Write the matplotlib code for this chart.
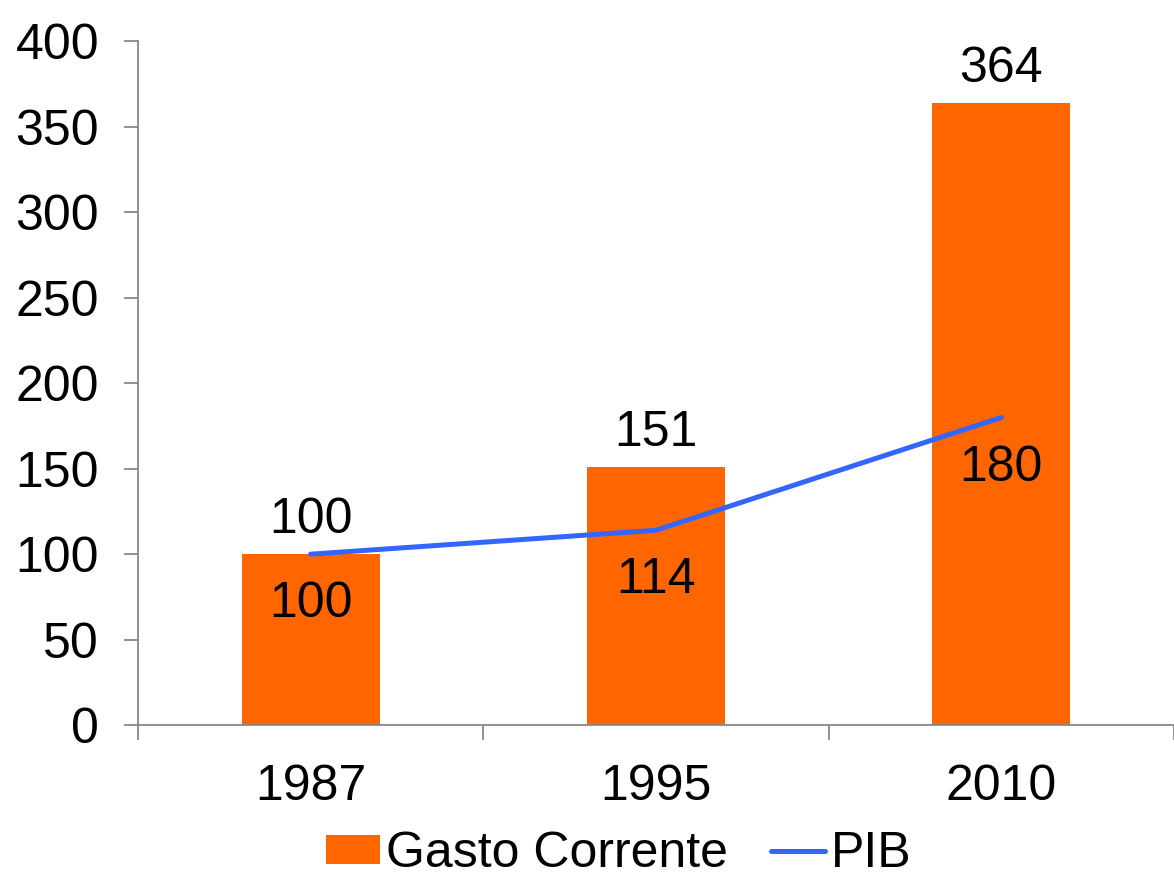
import matplotlib.pyplot as plt

anos = ['1987', '1995', '2010']
gasto_corrente = [100, 151, 364]
pib = [100, 114, 180]

plt.rcParams['font.family'] = ['Liberation Sans', 'DejaVu Sans']
fs = 36

fig = plt.figure(figsize=(11.74, 8.8), dpi=100)
ax = fig.add_axes([0.1175, 0.176, 0.8825, 0.777])

x = list(range(len(anos)))

# Barras do gasto corrente
barras = ax.bar(x, gasto_corrente, width=0.4, color='#FF6600', label='Gasto Corrente', zorder=2)
# Linha do PIB
linha, = ax.plot(x, pib, color='#3366FF', linewidth=3.6, label='PIB', zorder=3,
                 solid_capstyle='round')

# Rótulos
for xi, v in zip(x, gasto_corrente):
    ax.annotate(str(v), (xi, v), xytext=(0, 8), textcoords='offset points',
                ha='center', va='bottom', fontsize=fs)
for xi, v in zip(x, pib):
    ax.annotate(str(v), (xi, v), xytext=(0, -19.5), textcoords='offset points',
                ha='center', va='top', fontsize=fs)

ax.set_xlim(-0.5, 2.5)
ax.set_ylim(0, 400)
ax.set_yticks(range(0, 401, 50))

# ticks de categoria nas divisões
ax.set_xticks(x)
ax.set_xticklabels(anos)
ax.set_xticks([-0.5, 0.5, 1.5, 2.5], minor=True)
ax.tick_params(axis='x', which='major', length=0, pad=28, labelsize=fs)
ax.tick_params(axis='x', which='minor', length=11, width=1.3, color='#888888')
ax.tick_params(axis='y', length=10, width=1.3, color='#888888', pad=18, labelsize=fs)

for s in ['top', 'right']:
    ax.spines[s].set_visible(False)
for s in ['left', 'bottom']:
    ax.spines[s].set_color('#888888')
    ax.spines[s].set_linewidth(1.3)

fig.legend([barras, linha], ['Gasto Corrente', 'PIB'], loc='lower center',
           bbox_to_anchor=(0.527, -0.048), ncol=2, frameon=False,
           fontsize=fs, handlelength=1.08, handleheight=0.5, handletextpad=0.12,
           columnspacing=0.85)

fig.savefig('out.png', dpi=100)
